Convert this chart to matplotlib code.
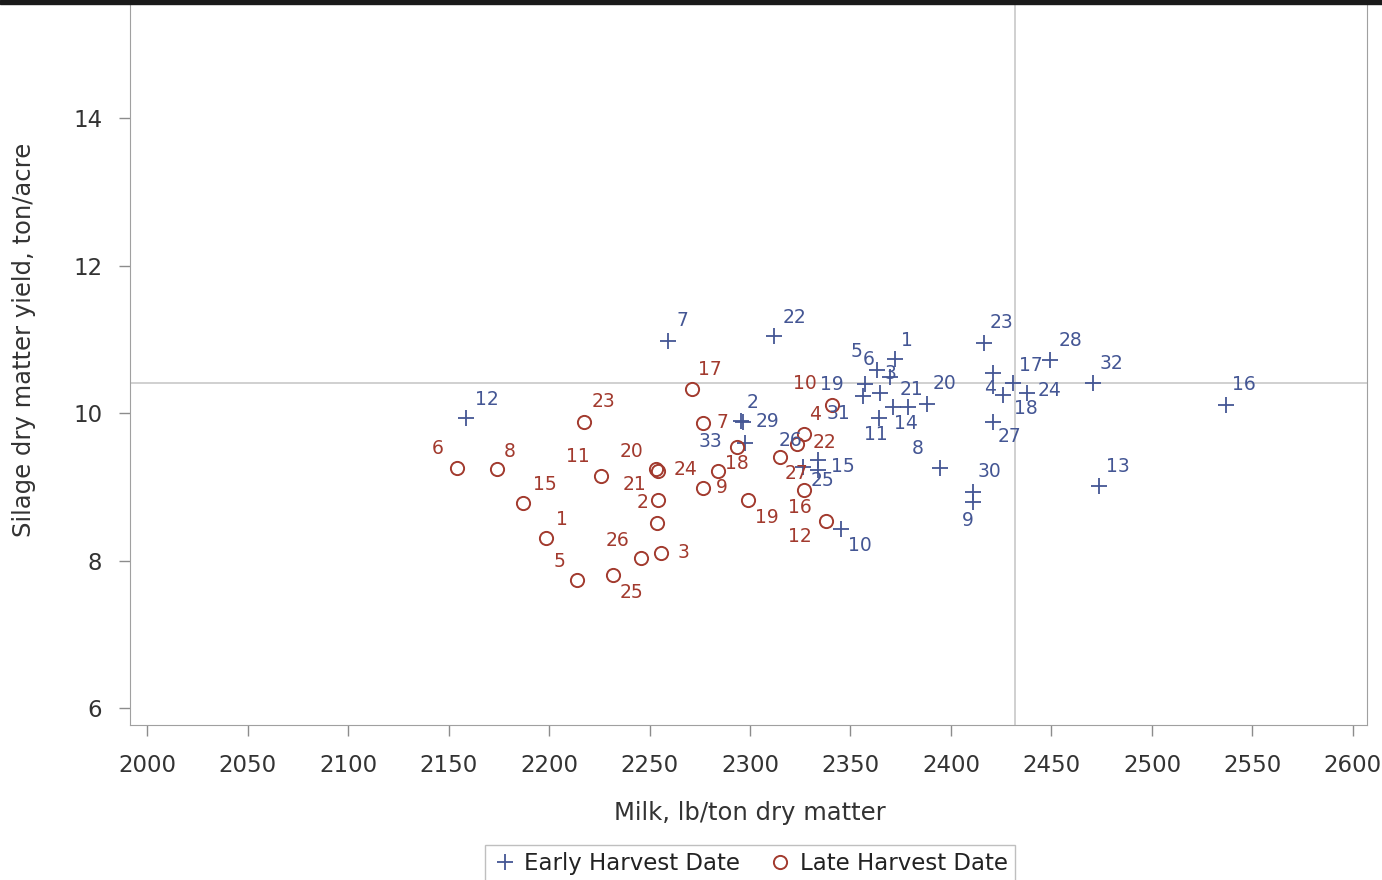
import matplotlib
matplotlib.use("Agg")
import matplotlib.pyplot as plt
from matplotlib.patches import Rectangle

# Early harvest date: milk (lb/ton DM), yield (ton/acre), plot labels
early_milk = [2372.1, 2295.5, 2364.7, 2420.9, 2363.2, 2369.7, 2259.2, 2394.5, 2410.9, 2345.3,
              2364.2, 2158.7, 2473.6, 2378.6, 2333.8, 2536.8, 2430.8, 2425.9, 2357.2, 2388.1,
              2371.1, 2311.9, 2416.4, 2437.8, 2333.8, 2326.4, 2420.9, 2449.3, 2296.5, 2410.9,
              2356.2, 2470.6, 2297.5]
early_yield = [10.73, 9.89, 10.27, 10.54, 10.58, 10.49, 10.98, 9.25, 8.79, 8.43,
               9.93, 9.93, 9.01, 10.08, 9.36, 10.11, 10.41, 10.24, 10.39, 10.12,
               10.08, 11.04, 10.95, 10.27, 9.23, 9.27, 9.88, 10.72, 9.88, 8.93,
               10.23, 10.41, 9.59]
early_ids = [str(i) for i in range(1, 34)]

# Late harvest date
late_milk = [2198.5, 2253.7, 2255.7, 2326.9, 2213.9, 2154.2, 2276.6, 2174.1, 2276.6, 2340.8,
             2225.9, 2337.8, 2187.1, 2326.9, 2271.1, 2284.1, 2299.0, 2253.2, 2254.2, 2323.4,
             2217.4, 2254.2, 2231.8, 2245.8, 2314.9, 2293.5]
late_yield = [8.31, 8.51, 8.10, 9.72, 7.74, 9.25, 9.86, 9.24, 8.99, 10.11,
              9.15, 8.54, 8.78, 8.96, 10.33, 9.21, 8.82, 9.24, 8.82, 9.58,
              9.88, 9.21, 7.80, 8.03, 9.40, 9.54]
late_ids = ['1', '2', '3', '4', '5', '6', '7', '8', '9', '10',
            '11', '12', '15', '16', '17', '18', '19', '20', '21', '22',
            '23', '24', '25', '26', '27', '']

ref_milk = 2431.8
ref_yield = 10.41

# label placement (pixel offset of label centre from its point, x right / y down)
early_off = [(12, -19), (12, -19), (10, -20), (-3, 15), (-21, -19), (-21, -17), (14, -20), (-22, -20),
             (-5, 18), (19, 17), (-3, 16), (21, -19), (19, -20), (-2, 16), (25, 6), (18, -20),
             (18, -17), (23, 13), (-33, 0), (17, -21), (19, -18), (21, -19), (18, -20), (23, -3),
             (5, 11), (-13, -26), (17, 15), (20, -19), (25, 0), (17, -20), (-25, 17), (19, -19),
             (-35, -2)]
late_off = [(16, -18), (-14, -20), (23, -1), (11, -19), (-17, -18), (-19, -20), (19, -1), (13, -18),
            (19, 0), (-27, -21), (-23, -19), (-26, 16), (22, -19), (-4, 18), (18, -19), (19, -8),
            (19, 17), (-24, -18), (-23, -16), (27, -1), (19, -20), (28, -2), (19, 17), (-24, -18),
            (17, 16), (0, 0)]

blue = '#445694'
red = '#A23A2E'

plt.rcParams['font.family'] = 'DejaVu Sans'
fig = plt.figure(figsize=(13.82, 8.8), dpi=100)
ax = fig.add_axes([130/1382, 1 - 725/880, 1237/1382, 725/880])

ax.axhline(ref_yield, color='#c8c8c8', lw=1.2, zorder=1)
ax.axvline(ref_milk, color='#c8c8c8', lw=1.2, zorder=1)

ax.plot(early_milk, early_yield, ls='none', marker='+', ms=11.5, mew=1.3, color=blue,
        label='Early Harvest Date', zorder=3)
ax.plot(late_milk, late_yield, ls='none', marker='o', ms=9.5, mew=1.4, mfc='none', color=red,
        label='Late Harvest Date', zorder=3)

for xv, yv, t, (dx, dy) in zip(early_milk, early_yield, early_ids, early_off):
    ax.annotate(t, (xv, yv), xytext=(dx, -dy), textcoords='offset pixels',
                ha='center', va='center', fontsize=13.5, color=blue, zorder=4)
for xv, yv, t, (dx, dy) in zip(late_milk, late_yield, late_ids, late_off):
    if t:
        ax.annotate(t, (xv, yv), xytext=(dx, -dy), textcoords='offset pixels',
                    ha='center', va='center', fontsize=13.5, color=red, zorder=4)

ax.set_xlim(1991.5, 2607)
ax.set_ylim(5.77, 15.6)
ax.set_xticks(range(2000, 2601, 50))
ax.set_yticks([6, 8, 10, 12, 14])

for s in ax.spines.values():
    s.set_color('#a0a0a0')
ax.tick_params(direction='out', length=8, width=1, color='#8c8c8c',
               labelsize=16.5, labelcolor='#333333')
ax.tick_params(axis='x', pad=13)
ax.tick_params(axis='y', pad=12)

ax.set_xlabel('Milk, lb/ton dry matter', fontsize=17.5, color='#333333')
ax.set_ylabel('Silage dry matter yield, ton/acre', fontsize=17.5, color='#333333')
ax.xaxis.set_label_coords(0.501, -0.105)
ax.yaxis.set_label_coords(-0.076, 0.531)

leg = fig.legend(loc='upper center', bbox_to_anchor=(750/1382, 1 - 845/880), ncol=2,
                 fontsize=16.5, frameon=True, fancybox=False, handletextpad=0.3,
                 columnspacing=1.2, borderpad=0.3, handlelength=1.1, borderaxespad=0)
leg.get_frame().set_edgecolor('#b0b0b0')
leg.get_frame().set_linewidth(1)
for t in leg.get_texts():
    t.set_color('#222222')

# dark band along the very top of the screenshot
fig.add_artist(Rectangle((0, 1 - 4/880), 1, 4/880, transform=fig.transFigure,
                         color='#1a1a1a', zorder=10))

fig.savefig('out.png', dpi=100)
